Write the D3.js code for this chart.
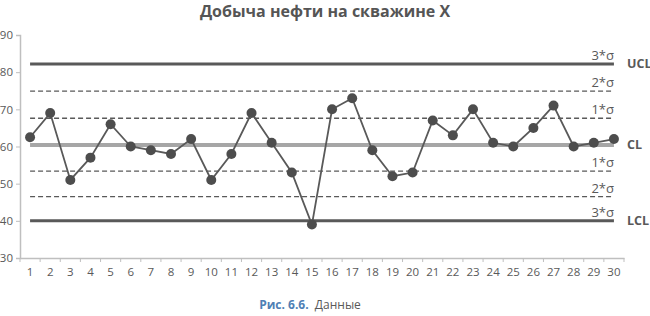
<!DOCTYPE html>
<html>
<head>
<meta charset="utf-8">
<script src="https://cdn.jsdelivr.net/npm/d3@7"></script>
<style>
  body { margin: 0; background: #fff; }
  text { font-family: "Open Sans", sans-serif; }
</style>
</head>
<body>
<div id="vis"></div>
<script>
var w = 650, h = 316;

// readings per day
var days = d3.range(1, 31);
var values = [62.5, 69, 51, 57, 66, 60, 59, 58, 62, 51,
              58, 69, 61, 53, 39, 70, 73, 59, 52, 53,
              67, 63, 70, 61, 60, 65, 71, 60, 61, 62];

// control limits
var limitNames = ["UCL", "2up", "1up", "CL", "1dn", "2dn", "LCL"];
var limitValues = [82.2, 74.9, 67.6, 60.4, 53.4, 46.5, 40];
var sigmaLabels = ["3*σ", "2*σ", "1*σ", "", "1*σ", "2*σ", "3*σ"];
var sideLabels = ["UCL", "", "", "CL", "", "", "LCL"];
var yTicks = [30, 40, 50, 60, 70, 80, 90];

var svg = d3.select("#vis").append("svg")
    .attr("width", w).attr("height", h);

var x = d3.scaleBand().domain(days).range([20, 624]);
var y = d3.scaleLinear().domain([30, 90]).range([258, 35]);
var cx = d => x(d) + x.bandwidth() / 2;

// title
svg.append("text")
    .attr("x", 325).attr("y", 17)
    .attr("text-anchor", "middle")
    .attr("font-size", 16).attr("font-weight", "bold")
    .attr("fill", "#555")
    .text("Добыча нефти на скважине X");

// axes
var yAxis = svg.append("g").attr("transform", "translate(20,0)")
    .call(d3.axisLeft(y).tickValues(yTicks).tickSize(4).tickPadding(3));
var xAxis = svg.append("g").attr("transform", "translate(0,258)")
    .call(d3.axisBottom(x).tickSize(0).tickPadding(10));
[yAxis, xAxis].forEach(g => {
    g.select(".domain").attr("stroke", "#bfbfbf").attr("stroke-width", 1.5);
    g.selectAll(".tick line").attr("stroke", "#bfbfbf");
    g.selectAll("text").attr("fill", "#595959").attr("font-size", 11.5)
        .attr("font-family", "Open Sans, sans-serif");
});
// x tick marks between categories
xAxis.selectAll("line.sep")
    .data(d3.range(0, 31))
    .join("line").attr("class", "sep")
    .attr("x1", i => x.range()[0] + i * x.step())
    .attr("x2", i => x.range()[0] + i * x.step())
    .attr("y1", 0).attr("y2", 4)
    .attr("stroke", "#bfbfbf");

// control lines
var x0 = cx(days[0]), x1 = cx(days[days.length - 1]);
var lim = svg.append("g");
limitNames.forEach((n, i) => {
    var v = limitValues[i];
    var isCL = n === "CL", isLim = n === "UCL" || n === "LCL";
    lim.append("line")
        .attr("x1", x0).attr("x2", x1)
        .attr("y1", y(v)).attr("y2", y(v))
        .attr("stroke", isCL ? "#a6a6a6" : "#595959")
        .attr("stroke-width", isCL ? 4 : (isLim ? 3 : 1.3))
        .attr("stroke-dasharray", (isCL || isLim) ? null : "5,3");
    if (sigmaLabels[i]) {
        lim.append("text")
            .attr("x", x1).attr("y", y(v) - 4)
            .attr("text-anchor", "end")
            .attr("font-size", 13).attr("fill", "#595959")
            .text(sigmaLabels[i]);
    }
    if (sideLabels[i]) {
        lim.append("text")
            .attr("x", 627).attr("y", y(v) + 4)
            .attr("font-size", 12.5).attr("font-weight", "bold")
            .attr("fill", "#595959")
            .text(sideLabels[i]);
    }
});

// data line + markers
var pts = days.map((d, i) => [cx(d), y(values[i])]);
svg.append("path")
    .attr("d", d3.line()(pts))
    .attr("fill", "none")
    .attr("stroke", "#595959")
    .attr("stroke-width", 1.8);
svg.append("g").selectAll("circle")
    .data(pts)
    .join("circle")
    .attr("cx", d => d[0]).attr("cy", d => d[1])
    .attr("r", 5)
    .attr("fill", "#4d4d4d");

// caption
var cap = svg.append("text")
    .attr("x", 310).attr("y", 309)
    .attr("text-anchor", "middle")
    .attr("font-size", 12);
cap.append("tspan").attr("font-weight", "bold").attr("fill", "#4f7fb5").text("Рис. 6.6.");
cap.append("tspan").attr("fill", "#595959").text("\u00a0 Данные");
</script>
</body>
</html>
